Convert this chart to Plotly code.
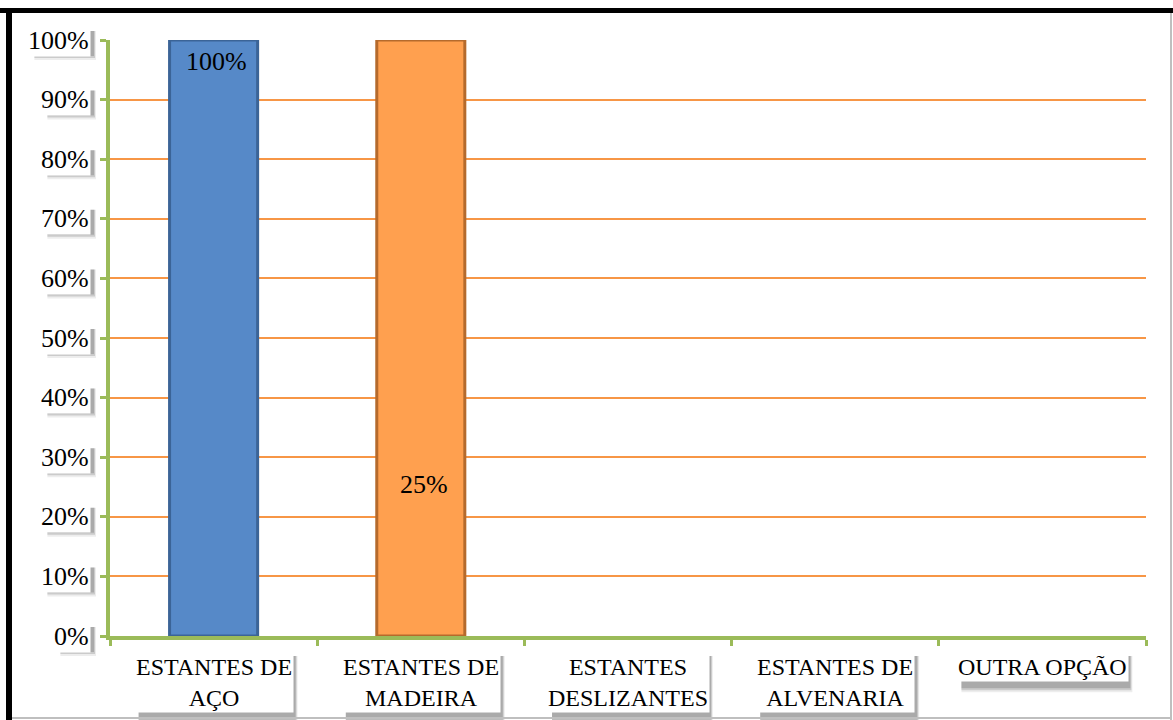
import plotly.graph_objects as go

# ---- data ----
categories = ["ESTANTES DE<br>AÇO", "ESTANTES DE<br>MADEIRA", "ESTANTES<br>DESLIZANTES",
              "ESTANTES DE<br>ALVENARIA", "OUTRA OPÇÃO"]
bar_values = [100, 100, 0, 0, 0]
label_values = [100, 25, None, None, None]
bar_colors = ["#5689C8", "#FFA04F", "#5689C8", "#5689C8", "#5689C8"]
edge_colors = ["#3B6497", "#B56A2C", "#3B6497", "#3B6497", "#3B6497"]
y_tick_vals = [0, 10, 20, 30, 40, 50, 60, 70, 80, 90, 100]
y_tick_text = ["0%", "10%", "20%", "30%", "40%", "50%", "60%", "70%", "80%", "90%", "100%"]

W, H = 1173, 720
L, R, T, B = 110, 27, 40, 84
PW, PH = W - L - R, H - T - B
GREEN = "#9BBB59"
ORANGE = "#F79646"
FONT = "Liberation Serif"
YFS, XFS = 26, 24

# approximate Times-like glyph widths (em) for shadow boxes
GW = {"%": .833, " ": .25, "A": .722, "Ã": .722, "Ç": .667, "C": .667, "D": .722, "E": .611,
      "I": .333, "L": .611, "M": .889, "N": .722, "O": .722, "P": .556, "R": .667,
      "S": .556, "T": .611, "U": .722, "V": .722, "Z": .611}


def text_w(s, size):
    return max(sum(GW.get(ch, .5) for ch in line) for line in s.split("<br>")) * size


def px(x):
    return (x - L) / PW


def py(y):
    return (H - B - y) / PH


def ypix(v):
    return H - B - v / 100 * PH


fig = go.Figure()
fig.add_trace(go.Bar(
    x=categories, y=bar_values, width=0.425,
    marker=dict(color=bar_colors,
                line=dict(color=edge_colors, width=[3 if v > 0 else 0 for v in bar_values])),
    hoverinfo="skip", showlegend=False,
))

ann = []
shapes = []


def shadow(x0, y0, x1, y1):
    for dx, dy, col in [(5, 7, "rgba(0,0,0,0.07)"), (4, 5, "rgba(0,0,0,0.14)"), (3, 3, "rgba(0,0,0,0.16)")]:
        shapes.append(dict(type="rect", xref="paper", yref="paper",
                           x0=px(x0 + 4), x1=px(x1 + dx), y0=py(y1 + dy), y1=py(y0 + 4),
                           fillcolor=col, line=dict(width=0), layer="above"))


# data labels
for c, v in zip(categories, label_values):
    if v is None:
        continue
    top = v >= 95
    ann.append(dict(x=c, y=v, xref="x", yref="y", text=f"{v}%", showarrow=False,
                    xanchor="center", yanchor="top" if top else "middle",
                    yshift=-5 if top else 3, xshift=3,
                    font=dict(family=FONT, size=26, color="black")))

# y tick labels in white boxes with shadow
for v, t in zip(y_tick_vals, y_tick_text):
    right = L - 19
    w = text_w(t, YFS)
    yc = ypix(v)
    shadow(right - w, yc - 13, right, yc + 13)
    ann.append(dict(x=0, y=v, xref="paper", yref="y", text=t, showarrow=False,
                    xanchor="right", yanchor="middle", xshift=-19,
                    bgcolor="white", borderpad=1,
                    font=dict(family=FONT, size=YFS, color="black")))

# x category labels in white boxes with shadow
for i, c in enumerate(categories):
    xc = L + (i + 0.5) * PW / len(categories)
    w = text_w(c, XFS)
    n = c.count("<br>") + 1
    top = H - B + 16
    shadow(xc - w / 2, top, xc + w / 2, top + n * XFS * 1.3 + 2)
    ann.append(dict(x=c, y=0, xref="x", yref="y", text=c, showarrow=False,
                    xanchor="center", yanchor="top", yshift=-16,
                    bgcolor="white", borderpad=1,
                    font=dict(family=FONT, size=XFS, color="black")))

# outer frame
shapes += [
    dict(type="rect", xref="paper", yref="paper", x0=px(0), x1=px(W), y0=py(13), y1=py(8),
         fillcolor="black", line=dict(width=0), layer="above"),
    dict(type="rect", xref="paper", yref="paper", x0=px(6), x1=px(12), y0=py(H), y1=py(8),
         fillcolor="black", line=dict(width=0), layer="above"),
    dict(type="rect", xref="paper", yref="paper", x0=px(1170), x1=px(1172), y0=py(H), y1=py(13),
         fillcolor="#BFBFBF", line=dict(width=0), layer="above"),
    dict(type="rect", xref="paper", yref="paper", x0=px(12), x1=px(1172), y0=py(719), y1=py(717),
         fillcolor="#BFBFBF", line=dict(width=0), layer="above"),
]

fig.update_layout(
    width=W, height=H,
    margin=dict(l=L, r=R, t=T, b=B),
    paper_bgcolor="white", plot_bgcolor="white",
    annotations=ann, shapes=shapes,
    xaxis=dict(type="category", showticklabels=False, tickson="boundaries",
               ticks="outside", ticklen=6, tickwidth=3, tickcolor=GREEN,
               showline=True, linecolor=GREEN, linewidth=4, showgrid=False,
               fixedrange=True),
    yaxis=dict(range=[0, 100], tickvals=y_tick_vals, showticklabels=False,
               ticks="outside", ticklen=6, tickwidth=3, tickcolor=GREEN,
               showline=True, linecolor=GREEN, linewidth=4,
               showgrid=True, gridcolor=ORANGE, gridwidth=1.5, zeroline=False,
               fixedrange=True),
)

fig.write_html("out.html", config={"displayModeBar": False},
               post_script="document.body.style.margin='0';")
